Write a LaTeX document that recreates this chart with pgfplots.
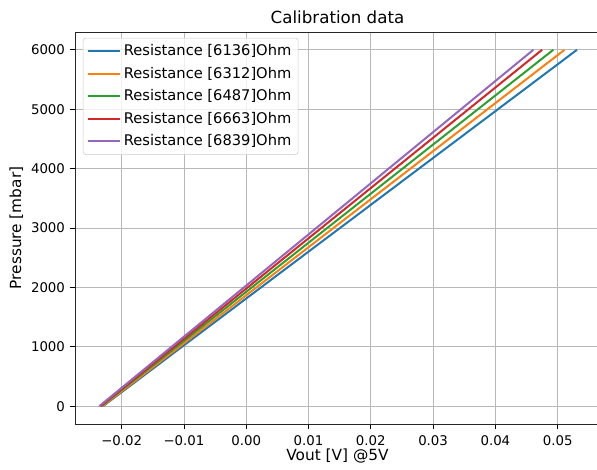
\documentclass[border=0pt]{standalone}
\usepackage{pgfplots}
\pgfplotsset{compat=1.18}
\usepackage{fontspec}
\setmainfont{DejaVu Sans}
\definecolor{c1}{HTML}{1F77B4}
\definecolor{c2}{HTML}{FF7F0E}
\definecolor{c3}{HTML}{2CA02C}
\definecolor{c4}{HTML}{D62728}
\definecolor{c5}{HTML}{9467BD}
\begin{document}
\begin{tikzpicture}[x=0.75pt,y=0.75pt]
\begin{axis}[
  at={(0,0)}, anchor=south west,
  scale only axis, width=393.75pt, height=294pt,
  xmin=-0.0275, xmax=0.0568, ymin=-300, ymax=6300,
  scaled x ticks=false, scaled y ticks=false,
  xtick={-0.02,-0.01,0,0.01,0.02,0.03,0.04,0.05},
  xticklabels={−0.02,−0.01,0.00,0.01,0.02,0.03,0.04,0.05},
  ytick={0,1000,2000,3000,4000,5000,6000},
  yticklabels={0,1000,2000,3000,4000,5000,6000},
  tick align=outside, tick pos=left,
  major tick length=4pt,
  every tick/.style={black, line width=0.6pt},
  grid=major, grid style={color=black!28, line width=0.6pt},
  axis line style={black!85, line width=0.6pt},
  ticklabel style={font=\fontsize{10}{12}\selectfont},
  xticklabel style={yshift=-1pt},
  title={Calibration data},
  title style={font=\fontsize{12.5}{14}\selectfont, yshift=-3pt},
  xlabel={Vout [V] @5V}, ylabel={Pressure [mbar]},
  label style={font=\fontsize{11.5}{13}\selectfont},
  xlabel style={yshift=4pt},
  ylabel style={yshift=-1pt},
  legend cell align=left,
  legend style={font=\fontsize{11}{13}\selectfont, draw=black!20, rounded corners=2pt, fill=white, fill opacity=0.8, text opacity=1, at={(0.015,0.985)}, anchor=north west, inner xsep=3pt, inner ysep=3pt, row sep=3pt},
  legend image code/.code={\draw[#1] (0pt,0pt) -- (24pt,0pt);},
]
\addplot[c1, line width=1.5pt] coordinates {(-0.0230,0) (0.0531,6000)};
\addlegendentry{Resistance [6136]Ohm}
\addplot[c2, line width=1.5pt] coordinates {(-0.0231,0) (0.0511,6000)};
\addlegendentry{Resistance [6312]Ohm}
\addplot[c3, line width=1.5pt] coordinates {(-0.0233,0) (0.0493,6000)};
\addlegendentry{Resistance [6487]Ohm}
\addplot[c4, line width=1.5pt] coordinates {(-0.0234,0) (0.0475,6000)};
\addlegendentry{Resistance [6663]Ohm}
\addplot[c5, line width=1.5pt] coordinates {(-0.0236,0) (0.0461,6000)};
\addlegendentry{Resistance [6839]Ohm}
\end{axis}
\pgfresetboundingbox
\path[use as bounding box] (-75,-46) rectangle (522,424);
\end{tikzpicture}
\end{document}
